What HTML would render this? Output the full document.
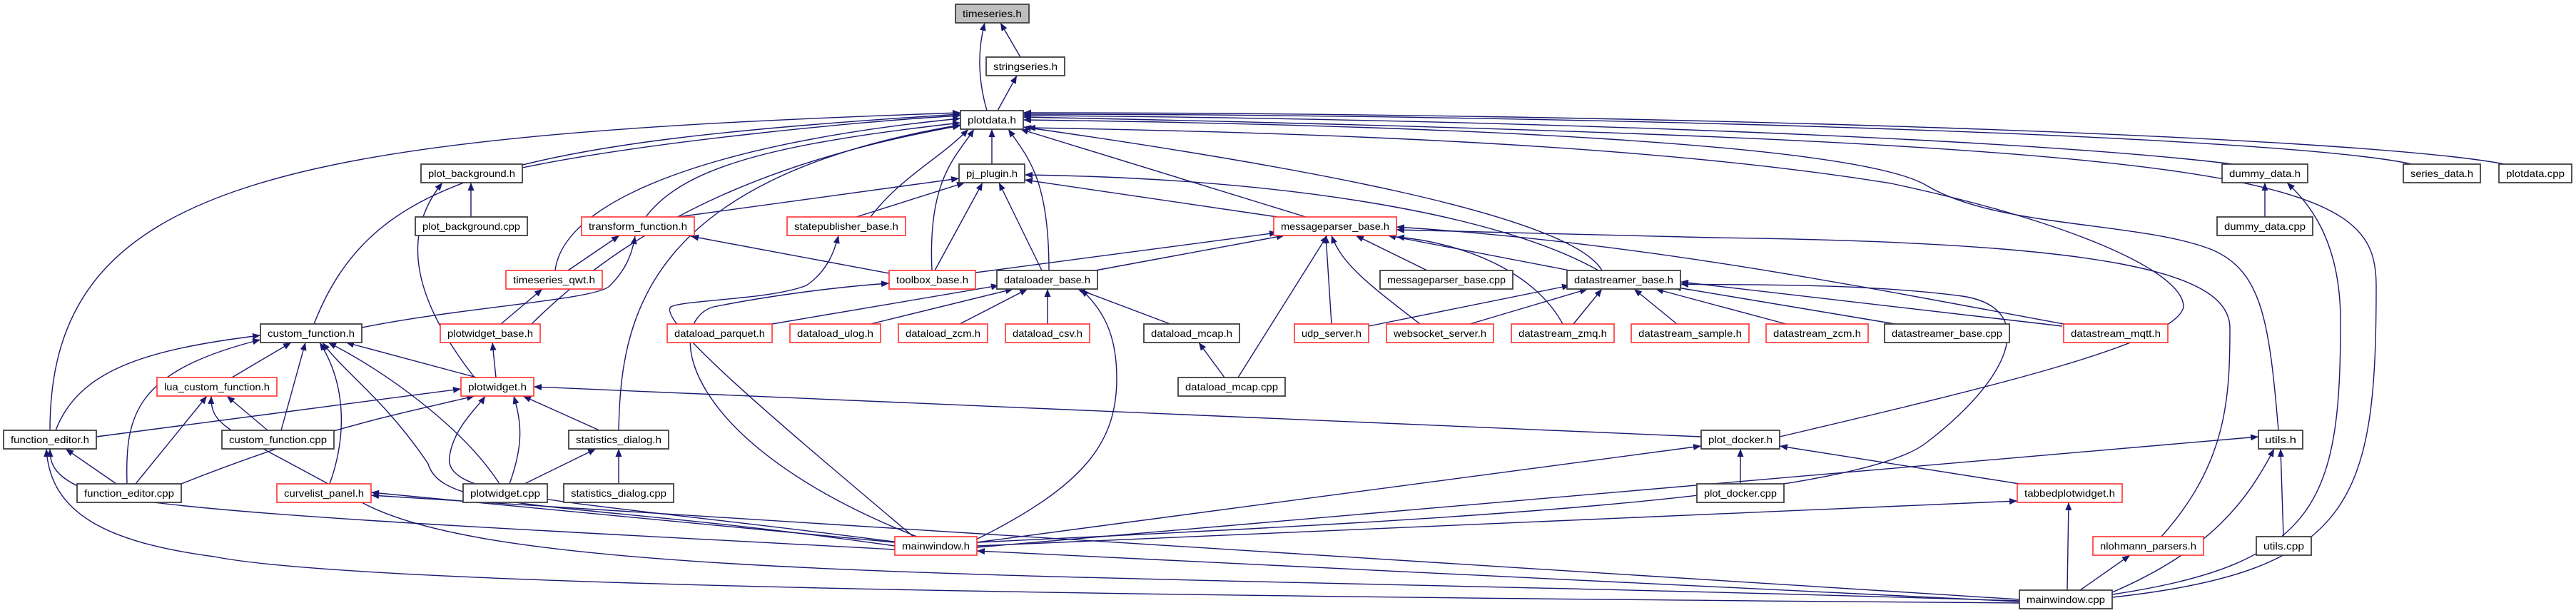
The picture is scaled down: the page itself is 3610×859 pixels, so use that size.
<!DOCTYPE html>
<html><head><meta charset="utf-8"><style>
html,body{margin:0;padding:0;background:#fff;}
svg{display:block;}
text{font-family:"Liberation Sans",sans-serif;font-size:14px;fill:#000;}
.e{fill:none;stroke:#191970;stroke-width:1.4;marker-end:url(#a);}
.b{fill:#fff;stroke:#404040;stroke-width:1.8;}
.r{fill:#fff;stroke:#ff3030;stroke-width:1.6;}
.g{fill:#bfbfbf;stroke:#404040;stroke-width:1.8;}
</style></head><body>
<svg width="3610" height="859" viewBox="0 0 3610 859" xmlns="http://www.w3.org/2000/svg">
<defs><marker id="a" markerUnits="userSpaceOnUse" markerWidth="12" markerHeight="9" refX="11" refY="4.5" orient="auto"><path d="M0,0 L11,4.5 L0,9 z" fill="#191970"/></marker></defs>
<g>
<path class="e" d="M1383 155 C1370 110 1370 70 1380 32"/>
<path class="e" d="M1430 80 L1402 32"/>
<path class="e" d="M1398 155 L1425 106"/>
<path class="e" d="M1390 230 L1390 181"/>
<path class="e" d="M732 235 C900 200 1200 170 1346 162"/>
<path class="e" d="M70 603 C70 250 400 190 1346 158"/>
<path class="e" d="M440 454 C520 250 700 200 1346 160"/>
<path class="e" d="M905 304 C960 230 1100 200 1346 172"/>
<path class="e" d="M778 379 C790 280 1000 200 1346 166"/>
<path class="e" d="M745 454 C900 300 1100 220 1346 176"/>
<path class="e" d="M1220 304 C1260 250 1320 220 1357 181"/>
<path class="e" d="M1306 379 C1300 250 1340 220 1365 181"/>
<path class="e" d="M1470 379 C1470 250 1440 220 1413 181"/>
<path class="e" d="M1830 304 L1430 181"/>
<path class="e" d="M2245 379 C2200 300 1800 230 1434 178"/>
<path class="e" d="M867 603 C870 450 900 250 1346 175"/>
<path class="e" d="M3130 230 C2800 190 2000 165 1434 162"/>
<path class="e" d="M3380 230 C3200 190 2200 160 1434 160"/>
<path class="e" d="M3510 230 C3300 190 2300 158 1434 158"/>
<path class="e" d="M3193 603 C3180 450 3170 380 3100 350 C3000 310 2800 320 2700 260 C2600 200 2000 175 1434 168"/>
<path class="e" d="M2960 837 C3300 800 3330 700 3330 400 C3330 250 3200 200 1434 164"/>
<path class="e" d="M2960 833 C3250 790 3280 700 3280 450 C3280 330 3230 280 3205 256"/>
<path class="e" d="M2494 612 C2800 540 3050 480 3060 430 C3060 380 2900 310 2650 257 C2300 200 1800 185 1440 179"/>
<path class="e" d="M950 304 L1344 250"/>
<path class="e" d="M1200 304 L1352 256"/>
<path class="e" d="M1790 304 L1436 252"/>
<path class="e" d="M1310 379 L1377 256"/>
<path class="e" d="M1460 379 L1400 256"/>
<path class="e" d="M2240 379 C2100 300 1800 250 1436 245"/>
<path class="e" d="M1246 383 L968 331"/>
<path class="e" d="M796 379 L868 330"/>
<path class="e" d="M507 459 C650 430 840 420 855 400 C875 380 885 360 890 331"/>
<path class="e" d="M702 454 L760 405"/>
<path class="e" d="M1367 382 L1790 326"/>
<path class="e" d="M1535 379 L1800 330"/>
<path class="e" d="M2000 379 L1900 330"/>
<path class="e" d="M2200 379 L1945 330"/>
<path class="e" d="M1866 454 L1858 330"/>
<path class="e" d="M1990 454 C1920 400 1880 370 1866 330"/>
<path class="e" d="M2190 454 C2150 380 2050 340 1957 332"/>
<path class="e" d="M1735 529 L1860 330"/>
<path class="e" d="M2892 454 C2600 400 2300 340 1957 318"/>
<path class="e" d="M3029 752 C3120 650 3125 560 3125 460 C3125 380 2950 340 2400 333 C2200 328 2000 324 1957 322"/>
<path class="e" d="M1082 454 L1400 400"/>
<path class="e" d="M1220 454 L1420 405"/>
<path class="e" d="M1345 454 L1440 405"/>
<path class="e" d="M1468 454 L1468 405"/>
<path class="e" d="M1640 454 L1510 405"/>
<path class="e" d="M1370 755 C1520 680 1565 620 1565 530 C1565 460 1540 430 1515 405"/>
<path class="e" d="M1716 529 L1680 480"/>
<path class="e" d="M1918 457 L2200 400"/>
<path class="e" d="M2060 454 L2225 405"/>
<path class="e" d="M2205 454 L2245 405"/>
<path class="e" d="M2350 454 L2290 405"/>
<path class="e" d="M2503 454 L2320 405"/>
<path class="e" d="M2656 454 L2345 402"/>
<path class="e" d="M2890 457 L2355 395"/>
<path class="e" d="M1369 760 C2000 730 2600 700 2700 620 C2830 520 2850 430 2750 415 C2600 395 2400 400 2355 398"/>
<path class="e" d="M325 529 L408 480"/>
<path class="e" d="M394 603 L428 480"/>
<path class="e" d="M78 603 C110 520 200 490 365 470"/>
<path class="e" d="M178 678 C175 580 190 520 365 476"/>
<path class="e" d="M462 678 C490 600 480 530 448 480"/>
<path class="e" d="M668 529 L485 480"/>
<path class="e" d="M700 678 C650 600 540 520 460 480"/>
<path class="e" d="M1254 765 C800 700 620 720 600 650 C540 560 480 520 452 480"/>
<path class="e" d="M695 529 L690 480"/>
<path class="e" d="M135 612 L646 545"/>
<path class="e" d="M254 678 C450 600 560 580 665 555"/>
<path class="e" d="M840 603 L733 555"/>
<path class="e" d="M714 678 C735 620 730 590 720 555"/>
<path class="e" d="M1260 760 C800 700 620 700 630 640 C635 600 670 570 680 555"/>
<path class="e" d="M2384 612 L748 542"/>
<path class="e" d="M190 678 L290 555"/>
<path class="e" d="M375 603 L318 555"/>
<path class="e" d="M2830 842 C1500 800 700 820 500 700 C320 600 295 600 296 555"/>
<path class="e" d="M163 678 L92 629"/>
<path class="e" d="M1254 770 C700 740 250 720 130 690 C75 670 70 650 70 629"/>
<path class="e" d="M2830 845 C1500 835 500 820 300 780 C150 760 70 720 65 629"/>
<path class="e" d="M735 678 L835 629"/>
<path class="e" d="M867 678 L867 629"/>
<path class="e" d="M660 304 L660 256"/>
<path class="e" d="M665 529 C580 420 560 330 620 256"/>
<path class="e" d="M1254 760 L520 690"/>
<path class="e" d="M2830 840 L520 694"/>
<path class="e" d="M2439 678 L2439 629"/>
<path class="e" d="M2830 678 L2494 625"/>
<path class="e" d="M1369 760 L2384 625"/>
<path class="e" d="M1369 765 L2827 702"/>
<path class="e" d="M2897 827 L2899 704"/>
<path class="e" d="M1369 767 L3165 612"/>
<path class="e" d="M3200 752 L3196 629"/>
<path class="e" d="M2960 830 C3100 770 3150 700 3187 629"/>
<path class="e" d="M2830 843 L1369 772"/>
<path class="e" d="M2915 827 L2985 778"/>
<path class="e" d="M3174 304 L3174 256"/>
<path class="e" d="M1280 752 C1100 600 920 450 940 430 C960 420 1080 420 1130 400 C1160 380 1170 350 1175 330"/>
<path class="e" d="M1285 752 C950 620 930 450 1000 430 C1100 410 1200 400 1246 397"/>
</g>
<g>
<rect class="g" x="1339" y="6" width="103" height="26"/><text x="1390.5" y="24" text-anchor="middle" textLength="83" lengthAdjust="spacingAndGlyphs">timeseries.h</text>
<rect class="b" x="1382" y="80" width="110" height="26"/><text x="1437" y="98" text-anchor="middle" textLength="90" lengthAdjust="spacingAndGlyphs">stringseries.h</text>
<rect class="b" x="1346" y="155" width="88" height="26"/><text x="1390" y="173" text-anchor="middle" textLength="68" lengthAdjust="spacingAndGlyphs">plotdata.h</text>
<rect class="b" x="1344" y="230" width="92" height="26"/><text x="1390" y="248" text-anchor="middle" textLength="72" lengthAdjust="spacingAndGlyphs">pj_plugin.h</text>
<rect class="b" x="590" y="230" width="142" height="26"/><text x="661" y="248" text-anchor="middle" textLength="122" lengthAdjust="spacingAndGlyphs">plot_background.h</text>
<rect class="b" x="3114" y="230" width="120" height="26"/><text x="3174" y="248" text-anchor="middle" textLength="100" lengthAdjust="spacingAndGlyphs">dummy_data.h</text>
<rect class="b" x="3368" y="230" width="108" height="26"/><text x="3422" y="248" text-anchor="middle" textLength="88" lengthAdjust="spacingAndGlyphs">series_data.h</text>
<rect class="b" x="3502" y="230" width="102" height="26"/><text x="3553" y="248" text-anchor="middle" textLength="82" lengthAdjust="spacingAndGlyphs">plotdata.cpp</text>
<rect class="b" x="582" y="304" width="157" height="26"/><text x="660.5" y="322" text-anchor="middle" textLength="137" lengthAdjust="spacingAndGlyphs">plot_background.cpp</text>
<rect class="r" x="815" y="304" width="158" height="26"/><text x="894" y="322" text-anchor="middle" textLength="138" lengthAdjust="spacingAndGlyphs">transform_function.h</text>
<rect class="r" x="1103" y="304" width="166" height="26"/><text x="1186" y="322" text-anchor="middle" textLength="146" lengthAdjust="spacingAndGlyphs">statepublisher_base.h</text>
<rect class="r" x="1785" y="304" width="172" height="26"/><text x="1871" y="322" text-anchor="middle" textLength="152" lengthAdjust="spacingAndGlyphs">messageparser_base.h</text>
<rect class="b" x="3107" y="304" width="134" height="26"/><text x="3174" y="322" text-anchor="middle" textLength="114" lengthAdjust="spacingAndGlyphs">dummy_data.cpp</text>
<rect class="r" x="709" y="379" width="135" height="26"/><text x="776.5" y="397" text-anchor="middle" textLength="115" lengthAdjust="spacingAndGlyphs">timeseries_qwt.h</text>
<rect class="r" x="1246" y="379" width="121" height="26"/><text x="1306.5" y="397" text-anchor="middle" textLength="101" lengthAdjust="spacingAndGlyphs">toolbox_base.h</text>
<rect class="b" x="1397" y="379" width="141" height="26"/><text x="1467.5" y="397" text-anchor="middle" textLength="121" lengthAdjust="spacingAndGlyphs">dataloader_base.h</text>
<rect class="b" x="1934" y="379" width="186" height="26"/><text x="2027" y="397" text-anchor="middle" textLength="166" lengthAdjust="spacingAndGlyphs">messageparser_base.cpp</text>
<rect class="b" x="2196" y="379" width="159" height="26"/><text x="2275.5" y="397" text-anchor="middle" textLength="139" lengthAdjust="spacingAndGlyphs">datastreamer_base.h</text>
<rect class="b" x="365" y="454" width="142" height="26"/><text x="436" y="472" text-anchor="middle" textLength="122" lengthAdjust="spacingAndGlyphs">custom_function.h</text>
<rect class="r" x="617" y="454" width="140" height="26"/><text x="687" y="472" text-anchor="middle" textLength="120" lengthAdjust="spacingAndGlyphs">plotwidget_base.h</text>
<rect class="r" x="935" y="454" width="147" height="26"/><text x="1008.5" y="472" text-anchor="middle" textLength="127" lengthAdjust="spacingAndGlyphs">dataload_parquet.h</text>
<rect class="r" x="1107" y="454" width="127" height="26"/><text x="1170.5" y="472" text-anchor="middle" textLength="107" lengthAdjust="spacingAndGlyphs">dataload_ulog.h</text>
<rect class="r" x="1259" y="454" width="125" height="26"/><text x="1321.5" y="472" text-anchor="middle" textLength="105" lengthAdjust="spacingAndGlyphs">dataload_zcm.h</text>
<rect class="r" x="1409" y="454" width="118" height="26"/><text x="1468" y="472" text-anchor="middle" textLength="98" lengthAdjust="spacingAndGlyphs">dataload_csv.h</text>
<rect class="b" x="1603" y="454" width="134" height="26"/><text x="1670" y="472" text-anchor="middle" textLength="114" lengthAdjust="spacingAndGlyphs">dataload_mcap.h</text>
<rect class="r" x="1814" y="454" width="104" height="26"/><text x="1866" y="472" text-anchor="middle" textLength="84" lengthAdjust="spacingAndGlyphs">udp_server.h</text>
<rect class="r" x="1943" y="454" width="150" height="26"/><text x="2018" y="472" text-anchor="middle" textLength="130" lengthAdjust="spacingAndGlyphs">websocket_server.h</text>
<rect class="r" x="2118" y="454" width="144" height="26"/><text x="2190" y="472" text-anchor="middle" textLength="124" lengthAdjust="spacingAndGlyphs">datastream_zmq.h</text>
<rect class="r" x="2286" y="454" width="165" height="26"/><text x="2368.5" y="472" text-anchor="middle" textLength="145" lengthAdjust="spacingAndGlyphs">datastream_sample.h</text>
<rect class="r" x="2475" y="454" width="143" height="26"/><text x="2546.5" y="472" text-anchor="middle" textLength="123" lengthAdjust="spacingAndGlyphs">datastream_zcm.h</text>
<rect class="b" x="2641" y="454" width="175" height="26"/><text x="2728.5" y="472" text-anchor="middle" textLength="155" lengthAdjust="spacingAndGlyphs">datastreamer_base.cpp</text>
<rect class="r" x="2892" y="454" width="146" height="26"/><text x="2965" y="472" text-anchor="middle" textLength="126" lengthAdjust="spacingAndGlyphs">datastream_mqtt.h</text>
<rect class="r" x="220" y="529" width="168" height="26"/><text x="304" y="547" text-anchor="middle" textLength="148" lengthAdjust="spacingAndGlyphs">lua_custom_function.h</text>
<rect class="r" x="646" y="529" width="102" height="26"/><text x="697" y="547" text-anchor="middle" textLength="82" lengthAdjust="spacingAndGlyphs">plotwidget.h</text>
<rect class="b" x="1651" y="529" width="150" height="26"/><text x="1726" y="547" text-anchor="middle" textLength="130" lengthAdjust="spacingAndGlyphs">dataload_mcap.cpp</text>
<rect class="b" x="5" y="603" width="130" height="26"/><text x="70" y="621" text-anchor="middle" textLength="110" lengthAdjust="spacingAndGlyphs">function_editor.h</text>
<rect class="b" x="311" y="603" width="157" height="26"/><text x="389.5" y="621" text-anchor="middle" textLength="137" lengthAdjust="spacingAndGlyphs">custom_function.cpp</text>
<rect class="b" x="797" y="603" width="140" height="26"/><text x="867" y="621" text-anchor="middle" textLength="120" lengthAdjust="spacingAndGlyphs">statistics_dialog.h</text>
<rect class="b" x="2384" y="603" width="110" height="26"/><text x="2439" y="621" text-anchor="middle" textLength="90" lengthAdjust="spacingAndGlyphs">plot_docker.h</text>
<rect class="b" x="3165" y="603" width="62" height="26"/><text x="3196" y="621" text-anchor="middle" textLength="44" lengthAdjust="spacingAndGlyphs">utils.h</text>
<rect class="b" x="108" y="678" width="146" height="26"/><text x="181" y="696" text-anchor="middle" textLength="126" lengthAdjust="spacingAndGlyphs">function_editor.cpp</text>
<rect class="r" x="388" y="678" width="132" height="26"/><text x="454" y="696" text-anchor="middle" textLength="112" lengthAdjust="spacingAndGlyphs">curvelist_panel.h</text>
<rect class="b" x="649" y="678" width="118" height="26"/><text x="708" y="696" text-anchor="middle" textLength="98" lengthAdjust="spacingAndGlyphs">plotwidget.cpp</text>
<rect class="b" x="790" y="678" width="154" height="26"/><text x="867" y="696" text-anchor="middle" textLength="134" lengthAdjust="spacingAndGlyphs">statistics_dialog.cpp</text>
<rect class="b" x="2378" y="678" width="122" height="26"/><text x="2439" y="696" text-anchor="middle" textLength="102" lengthAdjust="spacingAndGlyphs">plot_docker.cpp</text>
<rect class="r" x="2827" y="678" width="147" height="26"/><text x="2900.5" y="696" text-anchor="middle" textLength="127" lengthAdjust="spacingAndGlyphs">tabbedplotwidget.h</text>
<rect class="r" x="1254" y="752" width="115" height="26"/><text x="1311.5" y="770" text-anchor="middle" textLength="95" lengthAdjust="spacingAndGlyphs">mainwindow.h</text>
<rect class="r" x="2933" y="752" width="155" height="26"/><text x="3010.5" y="770" text-anchor="middle" textLength="135" lengthAdjust="spacingAndGlyphs">nlohmann_parsers.h</text>
<rect class="b" x="3162" y="752" width="77" height="26"/><text x="3200.5" y="770" text-anchor="middle" textLength="57" lengthAdjust="spacingAndGlyphs">utils.cpp</text>
<rect class="b" x="2830" y="827" width="130" height="26"/><text x="2895" y="845" text-anchor="middle" textLength="110" lengthAdjust="spacingAndGlyphs">mainwindow.cpp</text>
</g>
</svg>
</body></html>
